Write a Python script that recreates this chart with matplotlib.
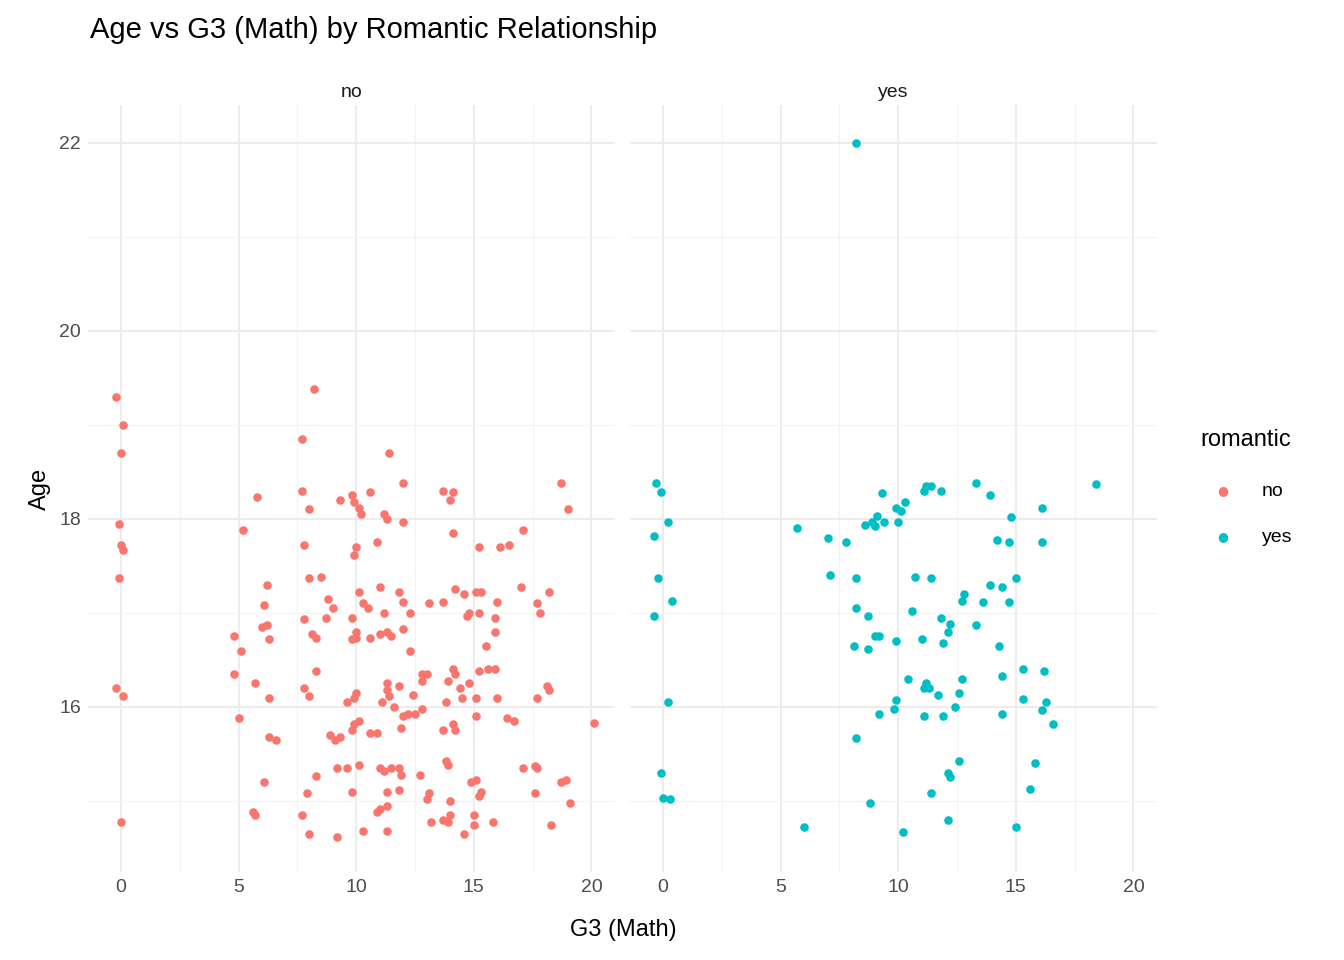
import matplotlib
matplotlib.use("Agg")
import matplotlib.pyplot as plt
import numpy as np

plt.rcParams['font.family'] = ['Liberation Sans', 'DejaVu Sans']

no_pts = [(-0.2,19.3),(0.1,19.0),(0,18.7),(-0.1,17.95),(0,17.72),(0.1,17.67),(-0.1,17.37),(-0.2,16.2),(0.1,16.12),(0,14.78),
(4.8,16.75),(5.1,16.6),(4.8,16.35),(5,15.88),(5.2,17.88),
(5.8,18.23),(5.7,16.25),(6.0,16.85),(6.2,16.87),(6.1,17.08),(6.2,17.3),(6.3,16.72),(6.3,16.1),(6.3,15.68),(6.6,15.65),(6.1,15.2),(5.6,14.88),(5.7,14.85),
(7.7,18.85),(7.7,18.3),(8.2,19.38),(8.0,18.1),(7.8,17.72),(8.0,17.37),(8.5,17.38),(7.8,16.93),(8.1,16.78),(8.3,16.73),(8.3,16.38),(7.8,16.2),(8.0,16.12),(8.8,17.15),(8.7,16.95),(9.0,17.05),(8.3,15.27),(7.9,15.08),(7.7,14.85),(8.0,14.65),(9.2,14.62),(8.9,15.7),(9.1,15.65),(9.2,15.35),(9.3,15.68),
(9.3,18.2),(9.8,18.25),(9.9,18.18),(10.1,18.12),(10.2,18.05),(10.0,17.7),(9.9,17.62),(10.1,17.22),(10.3,17.1),(10.5,17.05),(9.8,16.95),(10.0,16.8),(10.0,16.73),(9.8,16.72),(10.6,16.73),(9.9,16.1),(10.0,16.15),(9.6,16.05),(10.1,15.85),(9.9,15.82),(9.8,15.75),(10.1,15.38),(9.8,15.1),(9.6,15.35),(10.3,14.68),(10.6,15.72),(10.9,15.72),
(10.6,18.28),(10.9,17.75),(11.2,18.05),(11.3,18.0),(11.4,18.7),(11.0,17.28),(11.2,17.0),(11.3,16.8),(11.0,16.78),(11.5,16.75),(11.1,16.05),(11.3,16.25),(11.3,16.18),(11.4,16.12),(11.6,16.0),(11.8,16.22),(11.0,15.35),(11.2,15.32),(11.5,15.35),(11.3,15.1),(11.3,14.95),(11.0,14.92),(10.9,14.88),(11.3,14.68),(11.8,15.12),(11.8,15.35),(11.9,15.28),
(12.0,18.38),(12.0,17.97),(11.8,17.22),(12.0,17.12),(12.3,17.0),(12.0,16.83),(12.3,16.6),(12.4,16.13),(12.2,15.93),(12.0,15.9),(11.9,15.78),(12.7,15.28),(12.5,15.92),(12.8,15.98),(12.8,16.35),(12.8,16.28),(13.0,16.35),(13.1,17.1),(13.0,15.02),(13.1,15.08),(13.2,14.78),
(13.7,18.3),(14.1,18.28),(14.0,18.2),(14.1,17.85),(13.7,17.12),(13.9,16.28),(13.8,16.05),(13.7,15.75),(13.8,15.42),(13.9,15.38),(13.7,14.8),(13.9,14.78),(14.0,14.85),(14.2,17.25),(14.6,17.2),(14.7,16.97),(14.8,17.0),(14.1,16.4),(14.2,16.35),(14.4,16.2),(14.8,16.25),(14.1,15.82),(14.2,15.75),(14.5,16.1),(14.0,15.0),(14.6,14.65),(14.9,15.2),(15.0,14.75),(15.1,15.22),(15.2,15.05),(15.3,15.1),(15.0,14.85),(15.2,17.7),(15.1,17.22),(15.3,17.22),(15.2,17.0),(15.2,16.38),(15.1,16.1),(15.1,15.9),(15.5,16.65),(15.6,16.4),
(15.9,16.8),(15.9,16.95),(16.0,17.12),(16.1,17.7),(16.5,17.72),(15.9,16.4),(16.0,16.1),(16.4,15.88),(16.7,15.85),(15.8,14.78),(17.1,17.88),(17.0,17.27),(17.7,17.1),(17.8,17.0),(18.2,17.22),(17.1,15.35),(17.6,15.37),(17.7,15.35),(17.7,16.1),(18.1,16.22),(18.2,16.18),(17.6,15.08),(18.3,14.75),(18.7,15.2),(18.9,15.22),(19.1,14.98),(18.7,18.38),(19.0,18.1),(20.1,15.83)]

yes_pts = [(-0.3,18.38),(-0.1,18.28),(0.2,17.97),(-0.4,17.82),(-0.2,17.37),(0.4,17.13),(-0.4,16.97),(0.2,16.05),(-0.1,15.3),(0.0,15.03),(0.3,15.02),
(8.2,22.0),
(5.7,17.9),(7.0,17.8),(7.8,17.75),(7.1,17.4),(8.2,17.37),(8.2,17.05),(8.7,16.97),(8.1,16.65),(8.2,15.67),(8.8,14.98),(6.0,14.72),
(8.6,17.93),(8.9,17.97),(9.0,17.92),(9.1,18.03),(9.4,17.97),(9.3,18.27),(8.7,16.62),(9.0,16.75),(9.2,16.75),(9.2,15.93),(9.8,15.98),(9.9,16.07),(9.9,16.7),(10.0,17.97),(9.9,18.12),(10.1,18.08),(10.3,18.18),(10.2,14.67),
(10.4,16.3),(10.6,17.02),(10.7,17.38),(11.0,16.72),(11.1,16.2),(11.1,15.9),(11.2,16.25),(11.3,16.2),(11.1,18.3),(11.2,18.35),(11.4,18.35),(11.8,18.3),(11.4,17.37),(11.8,16.95),(11.7,16.13),(11.9,15.9),(11.9,16.68),(12.1,16.8),(12.2,16.88),(12.1,15.3),(12.2,15.25),(12.1,14.8),(12.4,16.0),(12.6,16.15),(12.7,16.3),(11.4,15.08),(12.7,17.13),(12.8,17.2),(12.6,15.42),(13.3,18.38),(13.9,18.25),(13.3,16.87),(13.6,17.12),(13.9,17.3),(14.2,17.78),(14.4,17.27),(14.7,17.12),(14.7,17.75),(14.8,18.02),(14.3,16.65),(14.4,16.33),(14.4,15.93),(15.0,17.37),(15.3,16.4),(15.3,16.08),(15.0,14.72),(15.8,15.4),(15.6,15.13),(16.1,18.12),(16.1,17.75),(16.2,16.38),(16.1,15.97),(16.3,16.05),(16.6,15.82),(18.4,18.37)]

panels = ["no", "yes"]
colors = {"no": "#F8766D", "yes": "#00BFC4"}
data = {"no": no_pts, "yes": yes_pts}
xticks = [0, 5, 10, 15, 20]
yticks = [16, 18, 20, 22]

fig = plt.figure(figsize=(13.44, 9.6), dpi=100)
lefts = [88/1344, 630/1344]
w = 527/1344
bottom = 1 - 872/960
h = 767/960
for i, p in enumerate(panels):
    ax = fig.add_axes([lefts[i], bottom, w, h])
    arr = np.array(data[p])
    ax.scatter(arr[:, 0], arr[:, 1], s=38, color=colors[p], linewidths=0, zorder=3)
    ax.set_xlim(-1.4, 21.0)
    ax.set_ylim(14.245, 22.40)
    ax.set_xticks(xticks)
    ax.set_xticks([2.5, 7.5, 12.5, 17.5], minor=True)
    ax.set_yticks(yticks)
    ax.set_yticks([15, 17, 19, 21], minor=True)
    ax.grid(which="major", color="#EBEBEB", linewidth=1.3)
    ax.grid(which="minor", color="#F3F3F3", linewidth=0.8)
    ax.set_axisbelow(True)
    for s in ax.spines.values():
        s.set_visible(False)
    ax.tick_params(which="both", length=0, labelsize=14, colors="#4D4D4D", pad=5)
    if i == 1:
        ax.tick_params(axis="y", labelleft=False)
    else:
        ax.set_ylabel("Age", fontsize=17, color="black", labelpad=6)
    ax.set_title(p, fontsize=14, color="#1A1A1A", pad=6)

fig.text(623/1344, 1 - 930/960, "G3 (Math)", ha="center", va="center", fontsize=17)
fig.text(90/1344, 1 - 30/960, "Age vs G3 (Math) by Romantic Relationship", ha="left", va="center", fontsize=21)
fig.text(1200/1344, 1 - 440/960, "romantic", ha="left", va="center", fontsize=17)
for j, p in enumerate(panels):
    yy = 1 - (491 + 46*j)/960
    fig.text(1223/1344, yy, "\u25CF", ha="center", va="center", fontsize=9, color=colors[p], family="DejaVu Sans")
    fig.text(1262/1344, yy, p, ha="left", va="center", fontsize=14)

fig.savefig("out.png", dpi=100, facecolor="white")
